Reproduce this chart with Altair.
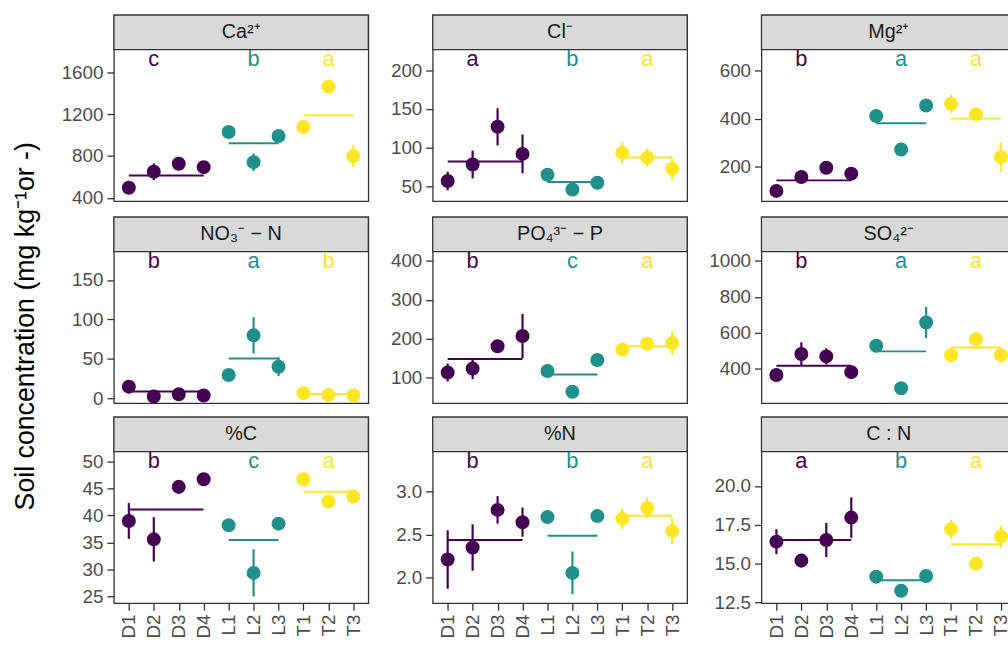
import altair as alt
import pandas as pd

# Sites along the x axis and the group each one belongs to
sites = ["D1", "D2", "D3", "D4", "L1", "L2", "L3", "T1", "T2", "T3"]
site_group = ["D", "D", "D", "D", "L", "L", "L", "T", "T", "T"]
groups = ["D", "L", "T"]
group_first = ["D1", "L1", "T1"]
group_last = ["D4", "L3", "T3"]
group_mid = ["D2", "L2", "T2"]
group_colors = ["#440154", "#21908C", "#FDE725"]

# Ca2+
ca_val = [496, 649, 726, 693, 1029, 741, 991, 1077, 1465, 799]
ca_err = [30, 80, 35, 35, 35, 84, 35, 40, 40, 106]
ca_grp = [614, 921, 1189]
ca_let = ["c", "b", "a"]
ca_lim = [367, 1818]
ca_ticks = [400, 800, 1200, 1600]

# Cl-
cl_val = [56.9, 78.2, 126.9, 91.9, 65.0, 45.8, 54.7, 93.2, 87.2, 72.7]
cl_err = [12, 18, 24, 25, 5, 5, 5, 14, 12, 14]
cl_grp = [82.0, 55.6, 87.2]
cl_let = ["a", "b", "a"]
cl_lim = [30.8, 226.5]
cl_ticks = [50, 100, 150, 200]

# Mg2+
mg_val = [98, 156, 195, 170, 411, 271, 455, 462, 418, 239]
mg_err = [15, 15, 15, 15, 15, 15, 15, 38, 20, 61]
mg_grp = [142, 381, 400]
mg_let = ["b", "a", "a"]
mg_lim = [55, 688]
mg_ticks = [200, 400, 600]

# NO3- - N
no3_val = [14.7, 2.1, 5.0, 3.4, 29.4, 79.8, 40.0, 6.3, 4.2, 3.4]
no3_err = [3, 2, 2, 2, 3, 23, 12, 2, 2, 2]
no3_grp = [8.4, 50.4, 5.4]
no3_let = ["b", "a", "b"]
no3_lim = [-6.3, 186]
no3_ticks = [0, 50, 100, 150]

# PO4 3- - P
po4_val = [112.8, 123, 180.6, 207, 117, 63.5, 145, 172, 187, 189]
po4_err = [23, 27, 10, 57, 8, 8, 8, 10, 15, 30]
po4_grp = [147.5, 107.6, 180.6]
po4_let = ["b", "c", "a"]
po4_lim = [34, 424]
po4_ticks = [100, 200, 300, 400]

# SO4 2-
so4_val = [364, 481, 468, 380, 527, 290, 657, 474, 564, 474]
so4_err = [35, 66, 45, 25, 25, 25, 87, 25, 40, 25]
so4_grp = [416, 496, 518]
so4_let = ["b", "a", "a"]
so4_lim = [207, 1052]
so4_ticks = [400, 600, 800, 1000]

# %C
c_val = [39.0, 35.6, 45.3, 46.7, 38.2, 29.4, 38.5, 46.7, 42.6, 43.5]
c_err = [3.3, 4.1, 0.6, 0.6, 0.6, 4.35, 1.0, 0.6, 1.0, 0.6]
c_grp = [41.1, 35.5, 44.4]
c_let = ["b", "c", "a"]
c_lim = [23.8, 51.8]
c_ticks = [25, 30, 35, 40, 45, 50]

# %N
n_val = [2.209, 2.349, 2.787, 2.644, 2.703, 2.053, 2.715, 2.685, 2.81, 2.54]
n_err = [0.34, 0.27, 0.16, 0.17, 0.05, 0.25, 0.05, 0.12, 0.12, 0.15]
n_grp = [2.435, 2.485, 2.72]
n_let = ["b", "b", "a"]
n_lim = [1.70, 3.465]
n_ticks = [2.0, 2.5, 3.0]

# C:N
cn_val = [16.41, 15.19, 16.52, 17.96, 14.16, 13.25, 14.2, 17.22, 15.0, 16.74]
cn_err = [0.8, 0.3, 1.1, 1.3, 0.3, 0.3, 0.4, 0.6, 0.3, 0.7]
cn_grp = [16.52, 13.93, 16.25]
cn_let = ["a", "b", "a"]
cn_lim = [12.45, 22.2]
cn_ticks = [12.5, 15.0, 17.5, 20.0]

STRIP_H = 35
PLOT_H = 153
PANEL_W = 257
PANEL_H = STRIP_H + PLOT_H
FONT = "Liberation Sans"


def make_panel(label, values, errs, grp_means, letters, lim, ticks, fmt, show_x):
    pts = pd.DataFrame({
        "site": sites,
        "group": site_group,
        "value": values,
        "lo": [v - e for v, e in zip(values, errs)],
        "hi": [v + e for v, e in zip(values, errs)],
    })
    means = pd.DataFrame({"group": groups, "start": group_first,
                          "end": group_last, "mean": grp_means})
    lets = pd.DataFrame({"group": groups, "site": group_mid,
                         "letter": letters, "top": [lim[1]] * 3})
    strip = pd.DataFrame({"label": [label]})

    yscale = alt.Scale(domain=lim, range=[PANEL_H, STRIP_H], nice=False, zero=False)
    yaxis = alt.Axis(values=ticks, format=fmt, title=None)
    xscale = alt.Scale(type="point", domain=sites, padding=0.6)
    if show_x:
        xaxis = alt.Axis(title=None, labelAngle=270, labelAlign="right",
                         labelBaseline="middle")
    else:
        xaxis = None
    color = alt.Color("group:N", scale=alt.Scale(domain=groups, range=group_colors),
                      legend=None)

    def xenc(field):
        return alt.X(f"{field}:N", scale=xscale, axis=xaxis)

    def yenc(field):
        return alt.Y(f"{field}:Q", scale=yscale, axis=yaxis)

    box = alt.Chart(strip).mark_rect(fill="#D9D9D9", stroke="#333333", strokeWidth=1.3).encode(
        x=alt.value(0), x2=alt.value(PANEL_W), y=alt.value(0), y2=alt.value(STRIP_H))
    box_text = alt.Chart(strip).mark_text(fontSize=20, color="#1A1A1A", baseline="middle").encode(
        x=alt.value(PANEL_W / 2), y=alt.value(STRIP_H / 2), text="label:N")
    mean_rule = alt.Chart(means).mark_rule(strokeWidth=2).encode(
        x=xenc("start"), x2=alt.X2("end"), y=yenc("mean"), color=color)
    err_rule = alt.Chart(pts).mark_rule(strokeWidth=2.2).encode(
        x=xenc("site"), y=yenc("lo"), y2=alt.Y2("hi"), color=color)
    dots = alt.Chart(pts).mark_circle(size=200, opacity=1).encode(
        x=xenc("site"), y=yenc("value"), color=color)
    letter_text = alt.Chart(lets).mark_text(fontSize=22, baseline="alphabetic", dy=16).encode(
        x=xenc("site"), y=yenc("top"), text="letter:N", color=color)

    return alt.layer(box, box_text, mean_rule, err_rule, dots, letter_text).properties(
        width=PANEL_W, height=PANEL_H)


panels = [
    make_panel("Ca²⁺", ca_val, ca_err, ca_grp, ca_let, ca_lim, ca_ticks, "d", False),
    make_panel("Cl⁻", cl_val, cl_err, cl_grp, cl_let, cl_lim, cl_ticks, "d", False),
    make_panel("Mg²⁺", mg_val, mg_err, mg_grp, mg_let, mg_lim, mg_ticks, "d", False),
    make_panel("NO₃⁻ − N", no3_val, no3_err, no3_grp, no3_let, no3_lim, no3_ticks, "d", False),
    make_panel("PO₄³⁻ − P", po4_val, po4_err, po4_grp, po4_let, po4_lim, po4_ticks, "d", False),
    make_panel("SO₄²⁻", so4_val, so4_err, so4_grp, so4_let, so4_lim, so4_ticks, "d", False),
    make_panel("%C", c_val, c_err, c_grp, c_let, c_lim, c_ticks, "d", True),
    make_panel("%N", n_val, n_err, n_grp, n_let, n_lim, n_ticks, ".1f", True),
    make_panel("C : N", cn_val, cn_err, cn_grp, cn_let, cn_lim, cn_ticks, ".1f", True),
]

# The right column runs past the canvas edge; a negative right padding trims it.
chart = alt.concat(
    *panels, columns=3, spacing={"row": 6, "column": 19}, align="each", bounds="full"
).properties(
    title=alt.TitleParams(
        text="Soil concentration (mg kg⁻¹or -)", orient="left", anchor="middle",
        fontSize=27, fontWeight="normal", color="#000000", offset=21),
    padding={"left": 12, "top": 10, "right": -10, "bottom": 0},
).configure(
    font=FONT
).configure_axis(
    labelFont=FONT, labelFontSize=19, labelColor="#4D4D4D", tickColor="#333333",
    tickWidth=1.3, tickSize=7, labelPadding=4, domain=False, grid=False
).configure_view(
    stroke="#333333", strokeWidth=1.3
).configure_title(font=FONT)

chart.save("out.html", embed_options={"renderer": "svg", "actions": False})
